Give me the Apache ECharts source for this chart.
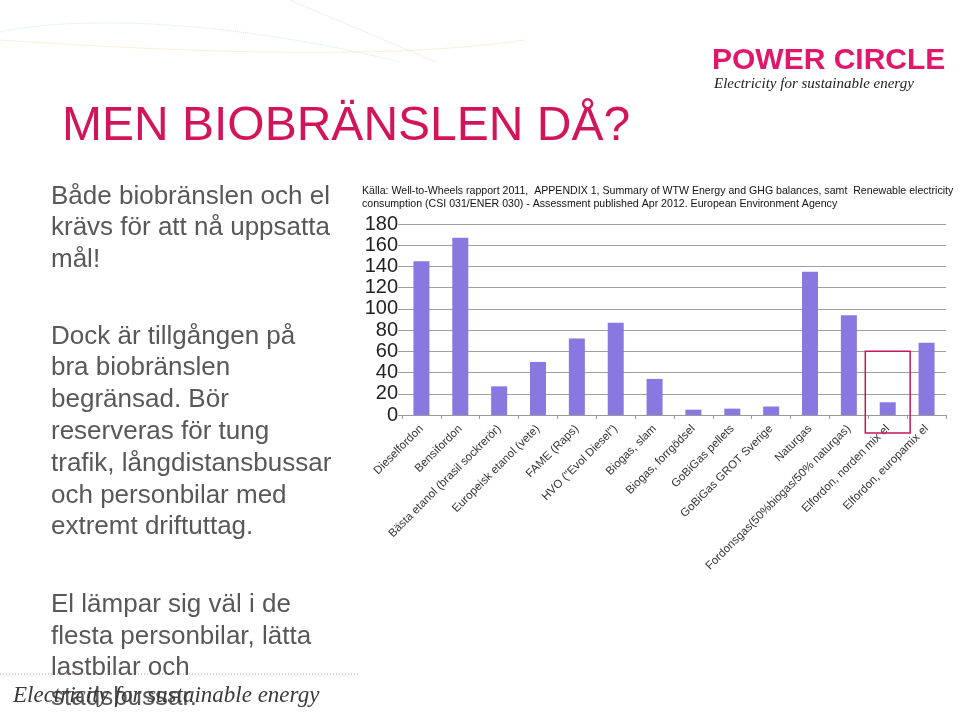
<!DOCTYPE html>
<html>
<head>
<meta charset="utf-8">
<script src="https://cdn.jsdelivr.net/npm/echarts@6/dist/echarts.min.js"></script>
<style>
html,body{margin:0;padding:0;background:#fff;}
#chart{width:960px;height:714px;}
</style>
</head>
<body>
<div id="chart"></div>
<script>
// ---- data ----
var categories = [
  'Dieselfordon',
  'Bensifordon',
  'Bästa etanol (brasil sockrerör)',
  'Europeisk etanol (vete)',
  'FAME (Raps)',
  'HVO ("Evol Diesel")',
  'Biogas, slam',
  'Biogas, forrgödsel',
  'GoBiGas pellets',
  'GoBiGas GROT Sverige',
  'Naturgas',
  'Fordonsgas(50%biogas/50% naturgas)',
  'Elfordon, norden mix el',
  'Elfordon, europamix el'
];
var values = [145, 167, 27, 50, 72, 87, 34, 5, 6, 8, 135, 94, 12, 68];
var yTicks = [0, 20, 40, 60, 80, 100, 120, 140, 160, 180];
var highlightIndex = 12;

var sourceLines = [
  'Källa: Well-to-Wheels rapport 2011,  APPENDIX 1, Summary of WTW Energy and GHG balances, samt  Renewable electricity',
  'consumption (CSI 031/ENER 030) - Assessment published Apr 2012. European Environment Agency'
];
var titleText = 'MEN BIOBRÄNSLEN DÅ?';
var para1 = ['Både biobränslen och el', 'krävs för att nå uppsatta', 'mål!'];
var para2 = ['Dock är tillgången på', 'bra biobränslen', 'begränsad. Bör', 'reserveras för tung', 'trafik, långdistansbussar', 'och personbilar med', 'extremt driftuttag.'];
var para3 = ['El lämpar sig väl i de', 'flesta personbilar, lätta', 'lastbilar och', 'stadsbussar.'];
var tagline = 'Electricity for sustainable energy';
var logoText = 'POWER CIRCLE';

// ---- layout ----
var chart = echarts.init(document.getElementById('chart'), null, {renderer: 'canvas'});
var FONT = '"Liberation Sans", Arial, Helvetica, sans-serif';
var SERIF = '"Liberation Serif", "DejaVu Serif", serif';
var BODY = '#585858';

// place text by baseline (top-aligned box, baseline ~0.82em below top)
function textEl(id, x, baseline, str, font, size, color) {
  return {type: 'text', id: id, z: 10, silent: true,
    style: {x: x, y: baseline - 0.82 * size, text: str, font: font, fill: color, verticalAlign: 'top', align: 'left'}};
}

var graphics = [];
// decorative faint curves at top
graphics.push({type: 'bezierCurve', id: 'dec1', shape: {x1: 0, y1: 32, x2: 400, y2: 62, cpx1: 80, cpy1: 15, cpx2: 230, cpy2: 20}, style: {stroke: '#d3e7ef', lineWidth: 1, lineDash: [1, 1], fill: null}, silent: true});
graphics.push({type: 'bezierCurve', id: 'dec2', shape: {x1: 0, y1: 40, x2: 525, y2: 40, cpx1: 150, cpy1: 50, cpx2: 380, cpy2: 62}, style: {stroke: '#f7f1d6', lineWidth: 1, fill: null}, silent: true});
graphics.push({type: 'line', id: 'dec3', shape: {x1: 290, y1: 0, x2: 436, y2: 62}, style: {stroke: '#f0d6de', lineWidth: 1, lineDash: [1, 1]}, silent: true});

// title
graphics.push(textEl('title', 62, 142, titleText, '48px ' + FONT, 48, '#d2145b'));
// body paragraphs
var p1y = [205, 236, 268];
para1.forEach(function (s, i) { graphics.push(textEl('p1_' + i, 51, p1y[i], s, '26px ' + FONT, 26, BODY)); });
var p2y = [345, 376, 408, 440, 472, 504, 535];
para2.forEach(function (s, i) { graphics.push(textEl('p2_' + i, 51, p2y[i], s, '26px ' + FONT, 26, BODY)); });
var p3y = [613, 645, 676, 706];
para3.forEach(function (s, i) { graphics.push(textEl('p3_' + i, 51, p3y[i], s, '26px ' + FONT, 26, BODY)); });

// footer dotted line and cursive tagline
graphics.push({type: 'line', id: 'footline', shape: {x1: 0, y1: 674, x2: 360, y2: 674}, style: {stroke: '#d98fb4', lineWidth: 1, lineDash: [1, 2]}, silent: true, z: 5});
graphics.push(textEl('foottag', 13, 703, tagline, 'italic 23px ' + SERIF, 23, '#3a3a3a'));

// logo
graphics.push(textEl('logo', 712, 70, logoText, 'bold 30px ' + FONT, 30, '#e2176b'));
graphics.push(textEl('logotag', 714, 89, tagline, 'italic 15px ' + SERIF, 15, '#222'));

// source text
sourceLines.forEach(function (s, i) {
  graphics.push(textEl('src_' + i, 362, 194 + i * 13, s, '10.6px ' + FONT, 10.6, '#111'));
});

chart.setOption({
  animation: false,
  backgroundColor: '#ffffff',
  grid: {left: 402, right: 14, top: 224, bottom: 299, containLabel: false},
  xAxis: {
    type: 'category',
    data: categories,
    axisLine: {show: true, lineStyle: {color: '#9a9a9a', width: 1}},
    axisTick: {show: true, length: 4, alignWithLabel: false, lineStyle: {color: '#9a9a9a'}},
    axisLabel: {interval: 0, rotate: 45, fontSize: 11.5, color: '#333', margin: 12, fontFamily: FONT},
    splitLine: {show: false}
  },
  yAxis: {
    type: 'value',
    min: yTicks[0],
    max: yTicks[yTicks.length - 1],
    interval: yTicks[1] - yTicks[0],
    axisLine: {show: false},
    axisTick: {show: true, length: 4, lineStyle: {color: '#a0a0a0'}},
    axisLabel: {fontSize: 20, color: '#222', margin: 4, fontFamily: FONT},
    splitLine: {show: true, lineStyle: {color: '#a0a0a0', width: 1}}
  },
  series: [{
    type: 'bar',
    data: values,
    barWidth: 16,
    itemStyle: {color: '#8878e0'},
    z: 3
  }],
  graphic: graphics
});

// red highlight box around the highlighted category, positioned from axis scales
var c = chart.convertToPixel({xAxisIndex: 0}, highlightIndex);
var c2 = chart.convertToPixel({xAxisIndex: 0}, highlightIndex + 1);
var half = (c2 - c) / 2 + 3;
var yTop = chart.convertToPixel({yAxisIndex: 0}, 60);
var yZero = chart.convertToPixel({yAxisIndex: 0}, 0);
chart.setOption({graphic: [{
  type: 'rect', id: 'hlbox',
  shape: {x: c - half, y: yTop, width: half * 2, height: (yZero - yTop) + 18},
  style: {fill: null, stroke: '#c4185a', lineWidth: 1.5},
  z: 20, silent: true
}]});
</script>
</body>
</html>
